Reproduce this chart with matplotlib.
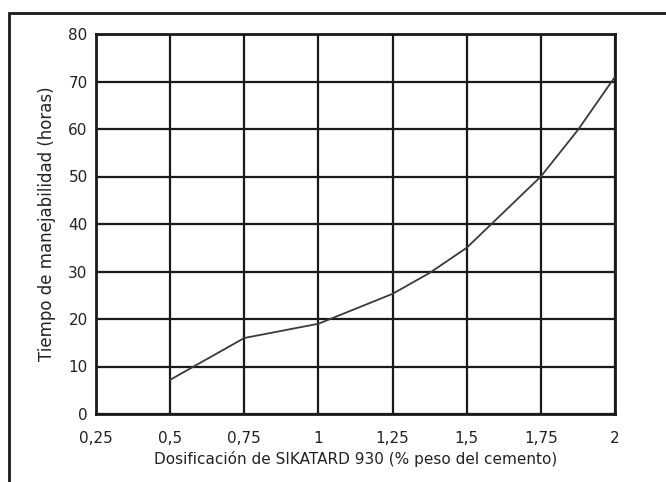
import matplotlib
matplotlib.use("Agg")
import matplotlib.pyplot as plt
from matplotlib.patches import Rectangle

# dosage (% of cement weight) vs workable time (hours)
dosage = [0.5, 0.75, 1.0, 1.25, 1.375, 1.5, 1.75, 1.875, 2.0]
hours = [7.2, 16.0, 19.0, 25.3, 29.7, 35.0, 50.0, 59.8, 71.0]

x_ticks = [0.25, 0.5, 0.75, 1.0, 1.25, 1.5, 1.75, 2.0]
x_labels = ["0,25", "0,5", "0,75", "1", "1,25", "1,5", "1,75", "2"]
y_ticks = [0, 10, 20, 30, 40, 50, 60, 70, 80]

plt.rcParams["font.family"] = ["DejaVu Sans"]

fig = plt.figure(figsize=(6.66, 4.82), dpi=100)
ax = fig.add_axes([96 / 666, 68 / 482, 519 / 666, 380 / 482])

# outer frame (only left and top edges visible in the crop)
frame = Rectangle((9 / 666, -0.2), 2.0, (482 - 13) / 482 + 0.2,
                  transform=fig.transFigure, fill=False,
                  edgecolor="#1a1a1a", linewidth=2.0, clip_on=False)
fig.patches.append(frame)

ax.plot(dosage, hours, color="#3a3a3a", linewidth=1.3, zorder=3)

ax.set_xlim(0.25, 2.0)
ax.set_ylim(0, 80)
ax.set_xticks(x_ticks)
ax.set_xticklabels(x_labels)
ax.set_yticks(y_ticks)
ax.grid(True, color="#1a1a1a", linewidth=1.6)
ax.tick_params(length=0, labelsize=11, colors="#222222", pad=6)
ax.tick_params(axis="x", pad=12)
for s in ax.spines.values():
    s.set_linewidth(2.0)
    s.set_color("#1a1a1a")

ax.set_xlabel("Dosificación de SIKATARD 930 (% peso del cemento)",
              fontsize=11, color="#222222", labelpad=4)
ax.set_ylabel("Tiempo de manejabilidad (horas)",
              fontsize=12, color="#222222", labelpad=9)

fig.savefig("out.png", dpi=100)
